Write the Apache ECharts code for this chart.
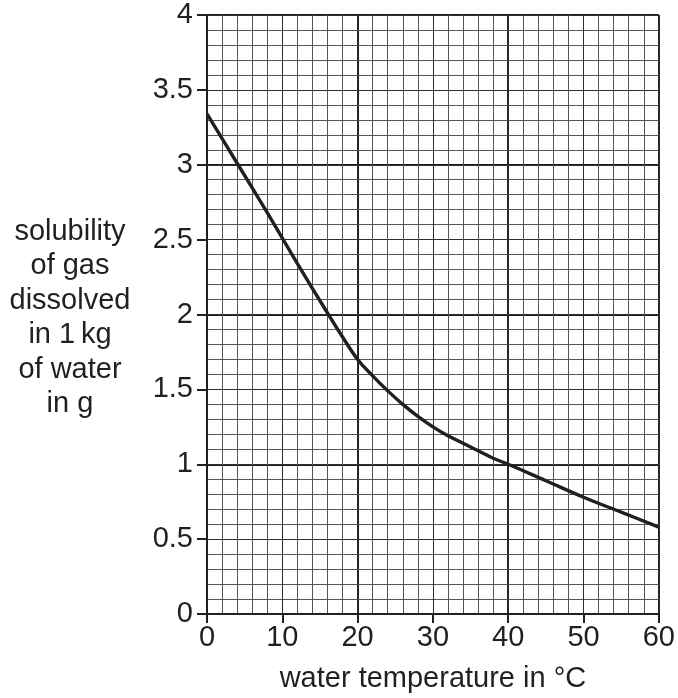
<!DOCTYPE html>
<html>
<head>
<meta charset="utf-8">
<script src="https://cdn.jsdelivr.net/npm/echarts@6/dist/echarts.min.js"></script>
<style>
html,body{margin:0;padding:0;background:#fff;}
#chart{width:678px;height:698px;}
</style>
</head>
<body>
<div id="chart"></div>
<script>
// Data
const temperature = [0, 4, 8, 12, 16, 18, 20, 22, 24, 26, 28, 30, 32, 34, 36, 38, 40, 45, 50, 55, 60];
const solubility  = [3.34, 3.01, 2.68, 2.34, 2.01, 1.85, 1.70, 1.59, 1.49, 1.40, 1.32, 1.25, 1.19, 1.14, 1.09, 1.04, 1.00, 0.89, 0.78, 0.68, 0.58];
const xAxisTitle = 'water temperature in °C';
const yAxisTitleLines = ['solubility', 'of gas', 'dissolved', 'in 1\u2009kg', 'of water', 'in g'];

const ink = '#231f20';
const font = 'Liberation Sans, Arial, Helvetica, sans-serif';

const chart = echarts.init(document.getElementById('chart'), null, {renderer: 'canvas'});
const gridBox = {left: 207, top: 15, right: 17, bottom: 77};

chart.setOption({
  animation: false,
  backgroundColor: '#fff',
  grid: Object.assign({containLabel: false}, gridBox),
  xAxis: [
    {
      type: 'value', min: 0, max: 60, interval: 10,
      axisLine: {show: true, lineStyle: {color: ink, width: 2}},
      axisTick: {show: true, length: 9, lineStyle: {color: ink, width: 2}},
      axisLabel: {color: ink, fontSize: 29, fontFamily: font, margin: 9},
      splitLine: {show: true, lineStyle: {color: '#2e2e2e', width: 1}},
      minorTick: {show: false, splitNumber: 5},
      minorSplitLine: {show: true, lineStyle: {color: '#555', width: 1}},
      name: xAxisTitle, nameLocation: 'middle', nameGap: 50,
      nameTextStyle: {color: ink, fontSize: 29, fontFamily: font},
      z: 5
    },
    {
      type: 'value', min: 0, max: 60, interval: 20, position: 'bottom',
      axisLine: {show: false}, axisTick: {show: false}, axisLabel: {show: false},
      splitLine: {show: true, lineStyle: {color: ink, width: 2}}
    }
  ],
  yAxis: [
    {
      type: 'value', min: 0, max: 4, interval: 0.5,
      axisLine: {show: true, lineStyle: {color: ink, width: 2}},
      axisTick: {show: true, length: 10, lineStyle: {color: ink, width: 2}},
      axisLabel: {color: ink, fontSize: 29, fontFamily: font, margin: 14},
      splitLine: {show: true, lineStyle: {color: '#2e2e2e', width: 1}},
      minorTick: {show: false, splitNumber: 5},
      minorSplitLine: {show: true, lineStyle: {color: '#555', width: 1}},
      z: 5
    },
    {
      type: 'value', min: 0, max: 4, interval: 1, position: 'left',
      axisLine: {show: false}, axisTick: {show: false}, axisLabel: {show: false},
      splitLine: {show: true, lineStyle: {color: ink, width: 2}}
    }
  ],
  graphic: [{
    type: 'text',
    x: 70, y: 318,
    style: {
      text: yAxisTitleLines.join('\n'),
      x: 0, y: 0,
      textAlign: 'center', textVerticalAlign: 'middle',
      font: '29px ' + font, fill: ink, lineHeight: 34.5
    }
  }],
  series: [{
    type: 'line',
    xAxisIndex: 0, yAxisIndex: 0,
    data: temperature.map((t, i) => [t, solubility[i]]),
    showSymbol: false,
    smooth: 0.4,
    lineStyle: {color: ink, width: 3.4},
    z: 10
  }]
});
</script>
</body>
</html>
